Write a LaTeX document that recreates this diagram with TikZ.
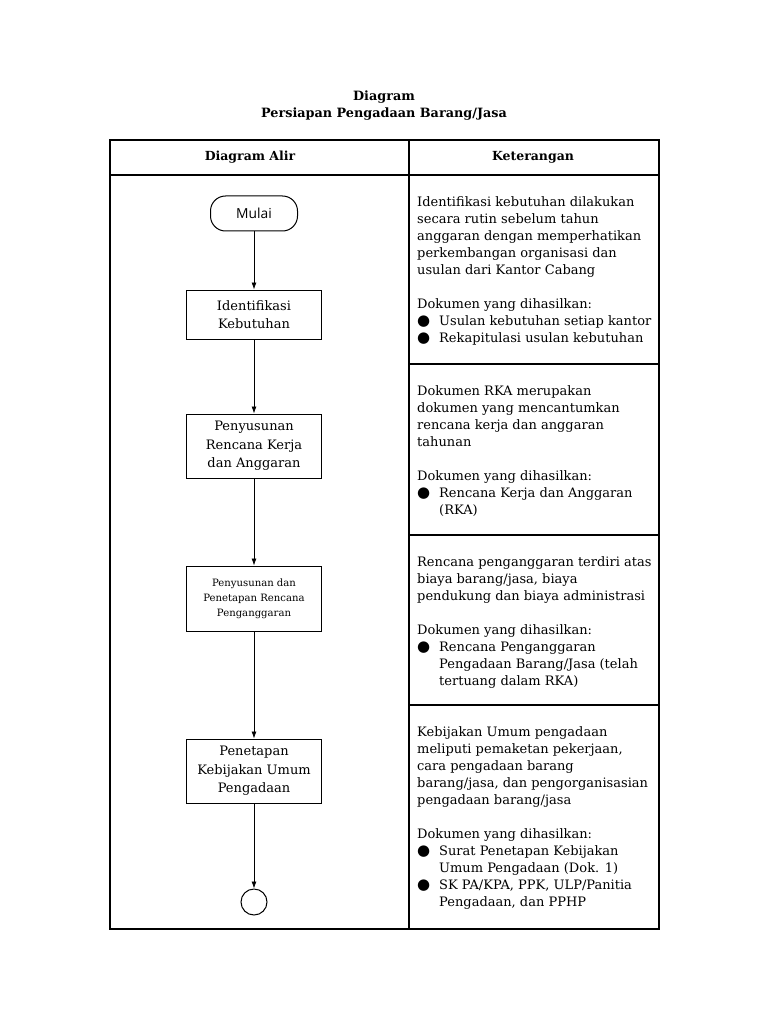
\documentclass[tikz,border=0pt]{standalone}
\usepackage{fontspec}
\setmainfont{DejaVu Serif}
\newfontfamily\symfont{DejaVu Sans}
\newfontfamily\mulaifont{Open Sans}
\usetikzlibrary{arrows.meta}
\newcommand{\bul}{\makebox[22pt][l]{\symfont\fontsize{15}{15}\selectfont ●}}
\newcommand{\ind}{\hspace*{22pt}}

\tikzset{
    flowbox/.style={draw, line width=1pt, minimum width=135pt, inner sep=0pt, align=center, font=\fontsize{13}{18.5}\selectfont},
    startbox/.style={draw, line width=1pt, rounded corners=15pt, minimum width=87pt, minimum height=35pt, font=\mulaifont\fontsize{13.8}{15}\selectfont},
    endcircle/.style={draw, line width=1pt, circle, minimum size=26pt, inner sep=0pt},
    note/.style={anchor=north west, inner sep=0pt, align=left, font=\fontsize{13}{17.1}\selectfont},
    arrow/.style={-{Latex[length=7pt,width=5pt]}, line width=.8pt},
}

\begin{document}
\begin{tikzpicture}[x=1pt, y=-1pt]
    \useasboundingbox (0,0) rectangle (768,1024);
    \fill[white] (0,0) rectangle (768,1024);

    % Judul.
    \node[font=\bfseries\fontsize{12.8}{17}\selectfont, align=center] (judul) at (384,106) {Diagram\\Persiapan Pengadaan Barang/Jasa};

    % Tabel.
    \draw[line width=1.2pt] (110,140) rectangle (659,929);
    \draw[line width=1.2pt] (110,175) -- (659,175);
    \draw[line width=1.2pt] (409,140) -- (409,929);
    \foreach \y in {364,535,705}
    {
        \draw[line width=1.2pt] (409,\y) -- (659,\y);
    }

    % Kepala tabel.
    \node[font=\bfseries\fontsize{12.5}{14}\selectfont] (alir) at (250,157) {Diagram Alir};
    \node[font=\bfseries\fontsize{12.5}{14}\selectfont] (ket) at (533,157) {Keterangan};

    % Diagram alir.
    \node[startbox] (mulai) at (254,213.5) {Mulai};
    \node[flowbox, minimum height=49pt] (ident) at (254,314.5) {Identifikasi\\Kebutuhan};
    \node[flowbox, minimum height=64pt] (rka) at (254,446) {Penyusunan\\Rencana Kerja\\dan Anggaran};
    \node[flowbox, minimum height=65pt, font=\fontsize{10.1}{15}\selectfont] (rencana) at (254,598.5) {Penyusunan dan\\Penetapan Rencana\\Penganggaran};
    \node[flowbox, minimum height=64pt] (kebijakan) at (254,771) {Penetapan\\Kebijakan Umum\\Pengadaan};
    \node[endcircle] (selesai) at (254,902) {};

    \draw[arrow] (mulai) -- (ident);
    \draw[arrow] (ident) -- (rka);
    \draw[arrow] (rka) -- (rencana);
    \draw[arrow] (rencana) -- (kebijakan);
    \draw[arrow] (kebijakan) -- (selesai);

    % Keterangan.
    \node[note] (k1) at (417,196) {Identifikasi kebutuhan dilakukan\\secara rutin sebelum tahun\\anggaran dengan memperhatikan\\perkembangan organisasi dan\\usulan dari Kantor Cabang\\[17pt]Dokumen yang dihasilkan:\\\bul Usulan kebutuhan setiap kantor\\\bul Rekapitulasi usulan kebutuhan};
    \node[note] (k2) at (417,385) {Dokumen RKA merupakan\\dokumen yang mencantumkan\\rencana kerja dan anggaran\\tahunan\\[17pt]Dokumen yang dihasilkan:\\\bul Rencana Kerja dan Anggaran\\\ind(RKA)};
    \node[note] (k3) at (417,556) {Rencana penganggaran terdiri atas\\biaya barang/jasa, biaya\\pendukung dan biaya administrasi\\[17pt]Dokumen yang dihasilkan:\\\bul Rencana Penganggaran\\\ind Pengadaan Barang/Jasa (telah\\\ind tertuang dalam RKA)};
    \node[note] (k4) at (417,726) {Kebijakan Umum pengadaan\\meliputi pemaketan pekerjaan,\\cara pengadaan barang\\barang/jasa, dan pengorganisasian\\pengadaan barang/jasa\\[17pt]Dokumen yang dihasilkan:\\\bul Surat Penetapan Kebijakan\\\ind Umum Pengadaan (Dok. 1)\\\bul SK PA/KPA, PPK, ULP/Panitia\\\ind Pengadaan, dan PPHP};
\end{tikzpicture}
\end{document}
